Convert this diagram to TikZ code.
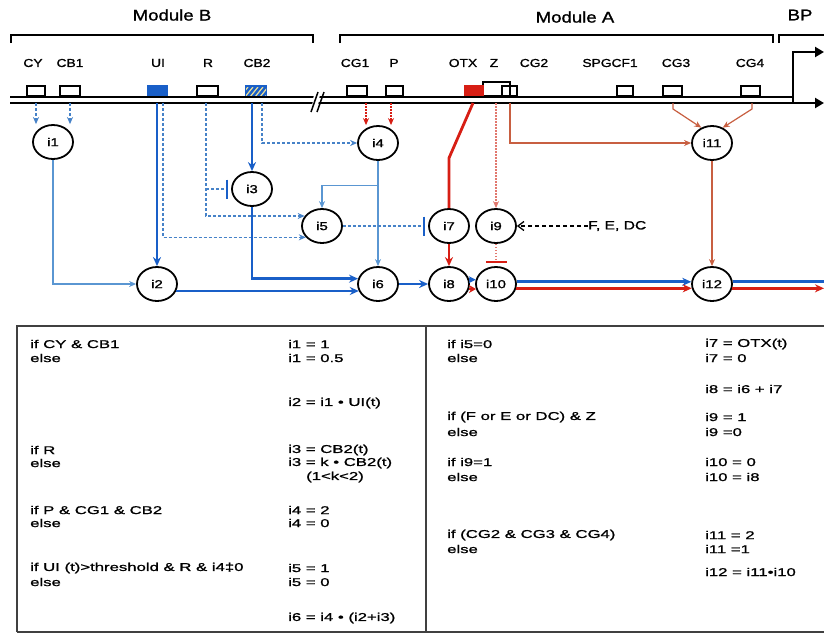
\documentclass[tikz,border=0pt]{standalone}
\usepackage{fontspec}
\setmainfont{Liberation Sans}
\newfontfamily\labf{Liberation Sans}[FakeStretch=1.2,FakeBold=1.2]
\newfontfamily\tabf{Liberation Sans}[FakeStretch=1.3,FakeBold=1.2]
\newfontfamily\tabw{Liberation Sans}[FakeStretch=1.48,FakeBold=1.2]
\usetikzlibrary{arrows.meta,shapes.geometric,calc}
\definecolor{bthickc}{RGB}{25,95,200}
\definecolor{bthinc}{RGB}{90,150,210}
\definecolor{bdashc}{RGB}{70,130,200}
\definecolor{rthickc}{RGB}{215,30,20}
\definecolor{rthinc}{RGB}{200,95,65}
\definecolor{rdotc}{RGB}{225,120,110}
\definecolor{hatchc}{RGB}{230,220,150}
\begin{document}
\begin{tikzpicture}[x=1pt,y=-1pt,
  inode/.style={draw=black, line width=1.8pt, ellipse, minimum width=40pt, minimum height=34pt, inner sep=0pt, fill=white, font=\tabf\fontsize{11.5}{13}\selectfont},
  gene/.style={draw=black, line width=1.6pt, fill=white, minimum height=10pt, inner sep=0pt, anchor=south},
  glab/.style={font=\labf\fontsize{11.5}{13}\selectfont, inner sep=0pt},
  modlab/.style={font=\labf\fontsize{15.5}{17}\selectfont, inner sep=0pt},
  ttxt/.style={font=\tabw\fontsize{11.3}{13}\selectfont, anchor=west, inner sep=0pt},
  tipS/.style={-{Stealth[length=7pt,width=6pt]}},
  tipL/.style={-{Stealth[length=9pt,width=8pt]}},
  bthick/.style={draw=bthickc, line width=2.8pt},
  bthin/.style={draw=bthinc, line width=1.2pt},
  bdash/.style={draw=bdashc, line width=1.3pt, dash pattern=on 3pt off 2pt},
  rthick/.style={draw=rthickc, line width=2.8pt},
  rthin/.style={draw=rthinc, line width=1.2pt},
  rdot/.style={draw=rdotc, line width=1.4pt, dash pattern=on 1.5pt off 1.5pt},
  kdash/.style={draw=black, line width=1.3pt, dash pattern=on 4pt off 3pt},
  bbar/.style={-{Bar[width=19pt,line width=2.6pt,color=bthickc]}, shorten >=3pt},
  rbar/.style={-{Bar[width=21pt,line width=2.6pt,color=rthickc]}, shorten >=3pt},
  brk/.style={draw=black, line width=1.3pt}
]
\useasboundingbox (0,0) rectangle (824,635);
\fill[white] (0,0) rectangle (824,635);

% module labels and brackets
\node[modlab] (modB) at (172,15) {Module B};
\node[modlab] (modA) at (575,17) {Module A};
\node[modlab] (bp) at (800,15) {BP};
\draw[brk] (11,43) -- (11,35) -- (313,35) -- (313,43);
\draw[brk] (340,43) -- (340,35) -- (773,35) -- (773,43);
\draw[brk] (779,43) -- (779,35) -- (824,35);

% gene labels
\node[glab] (lCY) at (33,63) {CY};
\node[glab] (lCB1) at (70,63) {CB1};
\node[glab] (lUI) at (158,63) {UI};
\node[glab] (lR) at (208,63) {R};
\node[glab] (lCB2) at (257,63) {CB2};
\node[glab] (lCG1) at (355,63) {CG1};
\node[glab] (lP) at (394,63) {P};
\node[glab] (lOTX) at (463,63) {OTX};
\node[glab] (lZ) at (494,63) {Z};
\node[glab] (lCG2) at (534,63) {CG2};
\node[glab] (lSPG) at (610,63) {SPGCF1};
\node[glab] (lCG3) at (676,63) {CG3};
\node[glab] (lCG4) at (750,63) {CG4};

% gene boxes
\node[gene, minimum width=18pt] (gCY) at (36,97) {};
\node[gene, minimum width=20pt] (gCB1) at (70,97) {};
\node[gene, minimum width=19pt, fill=bthickc, draw=bthickc] (gUI) at (157.5,97) {};
\node[gene, minimum width=21pt] (gR) at (207.5,97) {};
\node[gene, minimum width=20pt, fill=bthickc, draw=bthickc] (gCB2) at (256,97) {};
\begin{scope}
  \clip (246,87) rectangle (266,97);
  \foreach \k in {0,5,10,15,20,25}
    \draw[hatchc, line width=1.2pt] (240+\k,97) -- (248+\k,87);
\end{scope}
\node[gene, minimum width=20pt] (gCG1) at (357,97) {};
\node[gene, minimum width=17pt] (gP) at (394.5,97) {};
\node[gene, minimum width=27pt, minimum height=14pt, fill=none] (gZ) at (496.5,97) {};
\node[gene, minimum width=19pt, fill=rthickc, draw=rthickc] (gOTX) at (474,97) {};
\node[gene, minimum width=15pt, fill=none] (gCG2) at (509.5,97) {};
\draw[black, line width=1.2pt] (gCG2.south) -- (gCG2.north);
\node[gene, minimum width=16pt] (gSPG) at (625,97) {};
\node[gene, minimum width=19pt] (gCG3) at (672.5,97) {};
\node[gene, minimum width=19pt] (gCG4) at (750.5,97) {};

% DNA
\draw[black, line width=2.2pt] (10,97) -- (793,97);
\draw[black, line width=2.2pt, -{Triangle[length=9pt,width=10pt]}] (10,103) -- (824,103);
\draw[black, line width=2.2pt, -{Triangle[length=9pt,width=10pt]}] (793,103) -- (793,52) -- (824,52);
\fill[white] (314,94) -- (320,94) -- (318,106) -- (312,106) -- cycle;
\draw[black, line width=1.5pt] (311,112) -- (318,92);
\draw[black, line width=1.5pt] (317,112) -- (324,92);

% tap coordinates
\coordinate (tCY) at (36,103);
\coordinate (tCB1) at (70,103);
\coordinate (tUI1) at (157,103);
\coordinate (tUI2) at (163,103);
\coordinate (tR) at (206,103);
\coordinate (tCB2a) at (252,103);
\coordinate (tCB2b) at (262,103);
\coordinate (tCG1) at (366,103);
\coordinate (tP) at (391,103);
\coordinate (tOTX) at (473,103);
\coordinate (otxbend) at (449,158);
\coordinate (tZ) at (496,103);
\coordinate (tCG2) at (510,103);
\coordinate (tCG3) at (673,103);
\coordinate (tCG4) at (752,103);
\coordinate (out) at (824,284);

% interaction nodes
\node[inode] (i1) at (53,142) {i1};
\node[inode] (i2) at (157,284) {i2};
\node[inode] (i3) at (252,189) {i3};
\node[inode] (i4) at (378,143) {i4};
\node[inode] (i5) at (322,226) {i5};
\node[inode] (i6) at (378,284) {i6};
\node[inode] (i7) at (449,226) {i7};
\node[inode] (i8) at (449,284) {i8};
\node[inode] (i9) at (496,226) {i9};
\node[inode] (i10) at (496,284) {i10};
\node[inode] (i11) at (712,143) {i11};
\node[inode] (i12) at (712,284) {i12};
\node[font=\tabf\fontsize{12}{14}\selectfont, anchor=west, inner sep=0pt] (fed) at (588,226) {F, E, DC};

% blue connectors
\draw[bdash, tipS] (tCY) -- (tCY |- i1.north);
\draw[bdash, tipS] (tCB1) -- (tCB1 |- i1.north);
\draw[bthin, tipS] (i1.south) |- (i2.west);
\draw[bthick, tipL] (tUI1) -- (i2.north);
\draw[bdash, tipS] (tUI2) |- (i5.215);
\draw[bdash, tipS] (tR) |- (i5.150);
\draw[bdash, bbar] (tR |- i3) -- (i3.west);
\draw[bthick, tipL] (tCB2a) -- (i3.north);
\draw[bdash, tipS] (tCB2b) |- (i4.west);
\draw[bthick, tipL] (i3.south) |- (i6.165);
\draw[bthick, tipL] (i2.-20) -- (i6.200);
\draw[bthin, tipS] (i4.south) -- (i6.north);
\draw[bthin, tipS] ($(i4.south)!0.23!(i6.north)$) -| (i5.north);
\draw[bdash, bbar] (i5.east) -- (i7.west);
\draw[bthick, tipL] (i6.east) -- (i8.west);

% red connectors
\draw[rdot, tipS, draw=rthickc] (tCG1) -- (tCG1 |- i4.north);
\draw[rdot, tipS, draw=rthickc] (tP) -- (tP |- i4.north);
\draw[rthick] (tOTX) -- (otxbend) -- (i7.north);
\draw[rthick, tipL] (i7.south) -- (i8.north);
\draw[rdot, tipS] (tZ) -- (i9.north);
\draw[rthin, tipS] (tCG2) |- (i11.west);
\draw[rthin, tipS] (tCG3) -- ++(0,6) -- (i11.125);
\draw[rthin, tipS] (tCG4) -- ++(0,6) -- (i11.55);
\draw[rthin, tipS] (i11.south) -- (i12.north);
\draw[kdash, -{Straight Barb[length=6pt,width=9pt]}] (fed.west) -- (i9.east);
\draw[rdot, rbar] (i9.south) -- (i10.north);
\draw[bthick, -{Stealth[length=7pt,width=7pt]}] (i8.12) -- (i10.168);
\draw[rthick, -{Stealth[length=7pt,width=8pt]}] (i8.-14) -- (i10.194);
\draw[bthick, tipL] (i10.6) -- (i12.174);
\draw[rthick, tipL] (i10.-12) -- (i12.192);
\draw[bthick] (i12.6) -- (i12.6 -| out);
\draw[rthick, tipL] (i12.-12) -- (i12.-12 -| out);

% table
\draw[draw=black!75, line width=1.8pt] (17,632) -- (17,326) -- (826,326);
\draw[draw=black!75, line width=1.8pt] (17,632) -- (826,632);
\draw[draw=black!75, line width=1.8pt] (426,326) -- (426,632);

\node[ttxt] (a1) at (30,344) {if CY \& CB1};
\node[ttxt] (a2) at (30,358) {else};
\node[ttxt] (b1) at (288,344) {i1 = 1};
\node[ttxt] (b2) at (288,358) {i1 = 0.5};
\node[ttxt] (b3) at (288,403) {i2 = i1 • UI(t)};
\node[ttxt] (a3) at (30,450) {if R};
\node[ttxt] (a4) at (30,463) {else};
\node[ttxt] (b4) at (288,450) {i3 = CB2(t)};
\node[ttxt] (b5) at (288,463) {i3 = k • CB2(t)};
\node[ttxt] (b6) at (306,477) {(1<k<2)};
\node[ttxt] (a5) at (30,510) {if P \& CG1 \& CB2};
\node[ttxt] (a6) at (30,523) {else};
\node[ttxt] (b7) at (288,510) {i4 = 2};
\node[ttxt] (b8) at (288,523) {i4 = 0};
\node[ttxt] (a7) at (30,568) {if UI (t)>threshold \& R \& i4‡0};
\node[ttxt] (a8) at (30,582) {else};
\node[ttxt] (b9) at (288,568) {i5 = 1};
\node[ttxt] (b10) at (288,582) {i5 = 0};
\node[ttxt] (b11) at (288,618) {i6 = i4 • (i2+i3)};

\node[ttxt] (c1) at (447,344) {if i5=0};
\node[ttxt] (c2) at (447,358) {else};
\node[ttxt] (d1) at (705,344) {i7 = OTX(t)};
\node[ttxt] (d2) at (705,358) {i7 = 0};
\node[ttxt] (d3) at (705,389) {i8 = i6 + i7};
\node[ttxt] (c3) at (447,417) {if (F or E or DC) \& Z};
\node[ttxt] (c4) at (447,432) {else};
\node[ttxt] (d4) at (705,417) {i9 = 1};
\node[ttxt] (d5) at (705,432) {i9 =0};
\node[ttxt] (c5) at (447,462) {if i9=1};
\node[ttxt] (c6) at (447,477) {else};
\node[ttxt] (d6) at (705,462) {i10 = 0};
\node[ttxt] (d7) at (705,477) {i10 = i8};
\node[ttxt] (c7) at (447,535) {if (CG2 \& CG3 \& CG4)};
\node[ttxt] (c8) at (447,549) {else};
\node[ttxt] (d8) at (705,535) {i11 = 2};
\node[ttxt] (d9) at (705,549) {i11 =1};
\node[ttxt] (d10) at (705,572) {i12 = i11•i10};
\end{tikzpicture}
\end{document}
